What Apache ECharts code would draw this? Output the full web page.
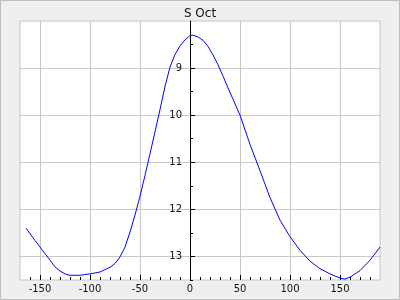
<!DOCTYPE html>
<html><head><meta charset="utf-8">
<script src="https://cdn.jsdelivr.net/npm/echarts@6/dist/echarts.min.js"></script>
<style>html,body{margin:0;padding:0;background:#efefef}#c{width:400px;height:300px}</style>
</head><body><div id="c"></div>
<script>
var titleText = 'S Oct';
var phase = [-164,-155,-150,-145,-140,-135,-130,-125,-120,-110,-100,-90,-80,-75,-70,-65,-60,-55,-50,-45,-40,-35,-30,-25,-20,-15,-10,-5,0,3,8,13,18,23,28,33,38,43,50,60,70,80,90,100,110,120,130,140,150,155,160,170,180,190];
var mag = [12.40,12.66,12.80,12.94,13.08,13.22,13.31,13.37,13.40,13.40,13.37,13.33,13.23,13.15,13.01,12.80,12.48,12.12,11.72,11.28,10.82,10.35,9.88,9.39,8.98,8.71,8.53,8.40,8.31,8.30,8.34,8.41,8.54,8.72,8.93,9.17,9.42,9.66,10.00,10.62,11.18,11.75,12.23,12.58,12.87,13.10,13.26,13.37,13.46,13.48,13.44,13.30,13.08,12.80];
var xMajor = [-150,-100,-50,0,50,100,150];
var xMinor = [-160,-140,-130,-120,-110,-90,-80,-70,-60,-40,-30,-20,-10,10,20,30,40,60,70,80,90,110,120,130,140,160,170,180];
var yMajor = [9,10,11,12,13];
var yMinor = [8.5,9.5,10.5,11.5,12.5,13.5];

var pts = phase.map(function(p,i){return [p, mag[i]];});
var chart = echarts.init(document.getElementById('c'), null, {renderer:'canvas'});
chart.setOption({
  backgroundColor:'#efefef',
  animation:false,
  title:{text:titleText, left:'center', top:3, textStyle:{fontFamily:'DejaVu Sans', fontSize:12, fontWeight:'normal', color:'#111'}},
  graphic:[{type:'rect', shape:{x:0.5,y:0.5,width:399,height:299}, style:{fill:'none', stroke:'#bdbdbd', lineWidth:1}, z:100}],
  grid:{left:20, right:20, top:21, bottom:20, show:true, backgroundColor:'#fff', borderColor:'#c4c4c4', borderWidth:1},
  xAxis:[
    {type:'value', min:-170, max:190, position:'bottom',
     axisLine:{show:false, onZero:false},
     axisTick:{show:true, inside:true, length:5, customValues:xMajor, lineStyle:{color:'#000'}},
     axisLabel:{customValues:xMajor, margin:4, fontFamily:'DejaVu Sans', fontSize:10, color:'#111'},
     splitLine:{show:true, lineStyle:{color:'#c8c8c8', width:1}}},
    {type:'value', min:-170, max:190, position:'bottom',
     axisLine:{show:false, onZero:false},
     axisTick:{show:true, inside:true, length:3, customValues:xMinor, lineStyle:{color:'#000'}},
     axisLabel:{show:false}, splitLine:{show:false}}
  ],
  yAxis:[
    {type:'value', inverse:true, min:8, max:13.5, position:'left', offset:-170,
     axisLine:{show:true, onZero:false, lineStyle:{color:'#000', width:1}},
     axisTick:{show:true, inside:true, length:5, customValues:yMajor, lineStyle:{color:'#000'}},
     axisLabel:{customValues:yMajor, margin:8, fontFamily:'DejaVu Sans', fontSize:10, color:'#111'},
     splitLine:{show:true, lineStyle:{color:'#c8c8c8', width:1}}},
    {type:'value', inverse:true, min:8, max:13.5, position:'left', offset:-170,
     axisLine:{show:false, onZero:false},
     axisTick:{show:true, inside:true, length:3, customValues:yMinor, lineStyle:{color:'#000'}},
     axisLabel:{show:false}, splitLine:{show:false}}
  ],
  series:[{type:'line', data:pts, xAxisIndex:0, yAxisIndex:0, showSymbol:false, symbol:'none', smooth:false,
    lineStyle:{color:'#0000ff', width:1}}]
});
</script></body></html>
